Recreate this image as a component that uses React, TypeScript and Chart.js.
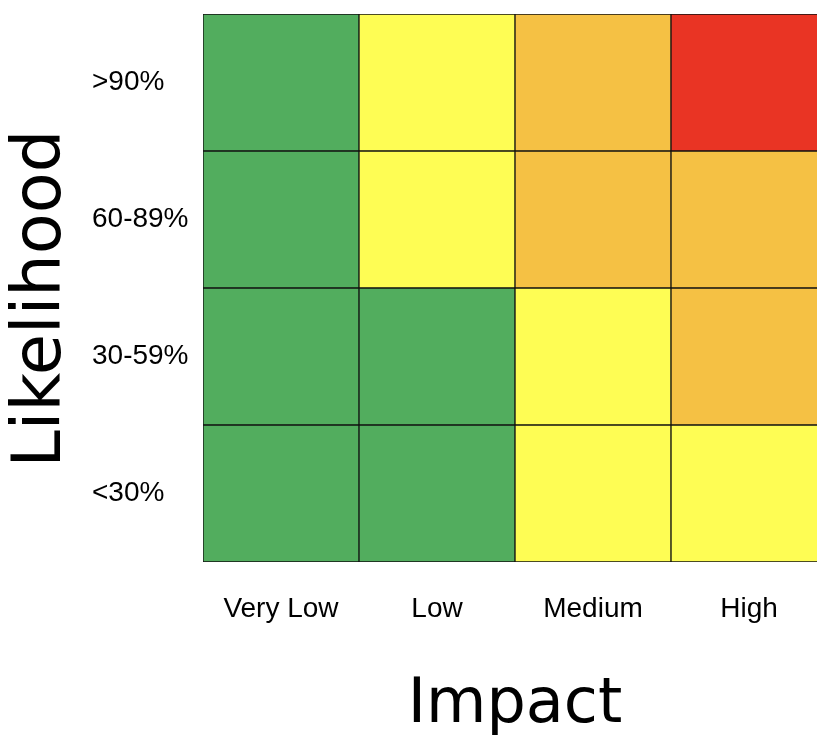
import { useEffect, useRef } from 'react';
import { Chart, registerables } from 'chart.js';

Chart.register(...registerables);

// Categories
const impactLabels = ['Very Low', 'Low', 'Medium', 'High'];
const likelihoodLabels = ['<30%', '30-59%', '60-89%', '>90%']; // bottom to top

// Risk level per impact column (1 = low ... 4 = extreme), one array per likelihood band
const riskUnder30 = [1, 1, 2, 2];
const risk30to59 = [1, 1, 2, 3];
const risk60to89 = [1, 2, 3, 3];
const riskOver90 = [1, 2, 3, 4];
const riskRows = [riskUnder30, risk30to59, risk60to89, riskOver90];

// Each cell spans one likelihood band
const cellSpan = [1, 1, 1, 1];

const levelColors = ['#52AD5E', '#FEFD54', '#F5C144', '#E93424'];

export default function App() {
  const ref = useRef<HTMLCanvasElement | null>(null);

  useEffect(() => {
    if (!ref.current) return;
    const chart = new Chart(ref.current, {
      type: 'bar',
      data: {
        labels: impactLabels,
        datasets: riskRows.map((row, i) => ({
          label: likelihoodLabels[i],
          data: cellSpan,
          backgroundColor: row.map((lvl) => levelColors[lvl - 1]),
          borderColor: '#111111',
          borderWidth: 1,
          borderSkipped: false,
          barPercentage: 1,
          categoryPercentage: 1,
        })),
      },
      options: {
        responsive: false,
        animation: false,
        events: [],
        layout: { padding: { left: 0, top: 14, right: 5, bottom: 0 } },
        plugins: {
          legend: { display: false },
          tooltip: { enabled: false },
          title: { display: false },
        },
        scales: {
          x: {
            type: 'category',
            stacked: true,
            grid: { display: false, drawTicks: false },
            border: { display: false },
            ticks: {
              font: { family: 'Liberation Sans', size: 28 },
              color: '#000',
              padding: 30,
              maxRotation: 0,
              autoSkip: false,
            },
            title: {
              display: true,
              text: 'Impact',
              color: '#000',
              font: { family: 'DejaVu Sans', size: 62, lineHeight: 1 },
              padding: { top: 0, bottom: 0 },
            },
            afterFit: (s: any) => {
              s.height = 175;
              s.paddingLeft = 0;
              s.paddingRight = 0;
            },
          },
          y: {
            type: 'linear',
            stacked: true,
            min: 0,
            max: 4,
            position: 'left',
            grid: { display: false, drawTicks: false },
            border: { display: false },
            afterBuildTicks: (s: any) => {
              s.ticks = likelihoodLabels.map((_, i) => ({ value: i + 0.5 }));
            },
            ticks: {
              callback: (v: any) => likelihoodLabels[Math.floor(Number(v))],
              crossAlign: 'far',
              font: { family: 'Liberation Sans', size: 28 },
              color: '#000',
              autoSkip: false,
            },
            afterFit: (s: any) => {
              s.width = 111;
              s.paddingTop = 0;
              s.paddingBottom = 0;
            },
          },
          yTitle: {
            type: 'linear',
            position: 'left',
            weight: 1,
            grid: { display: false, drawTicks: false },
            border: { display: false },
            ticks: { display: false },
            title: {
              display: true,
              text: 'Likelihood ',
              color: '#000',
              font: { family: 'DejaVu Sans', size: 67, lineHeight: 1 },
              padding: { top: 9, bottom: 0 },
            },
            afterFit: (s: any) => {
              s.width = 92;
              s.paddingTop = 0;
              s.paddingBottom = 0;
            },
          },
        },
      } as any,
    });
    return () => chart.destroy();
  }, []);

  return (
    <div
      style={{
        position: 'fixed',
        left: 0,
        top: 0,
        width: 817,
        height: 737,
        overflow: 'hidden',
        background: '#fff',
      }}
    >
      <canvas ref={ref} width={832} height={737} style={{ width: 832, height: 737, display: 'block' }} />
    </div>
  );
}
